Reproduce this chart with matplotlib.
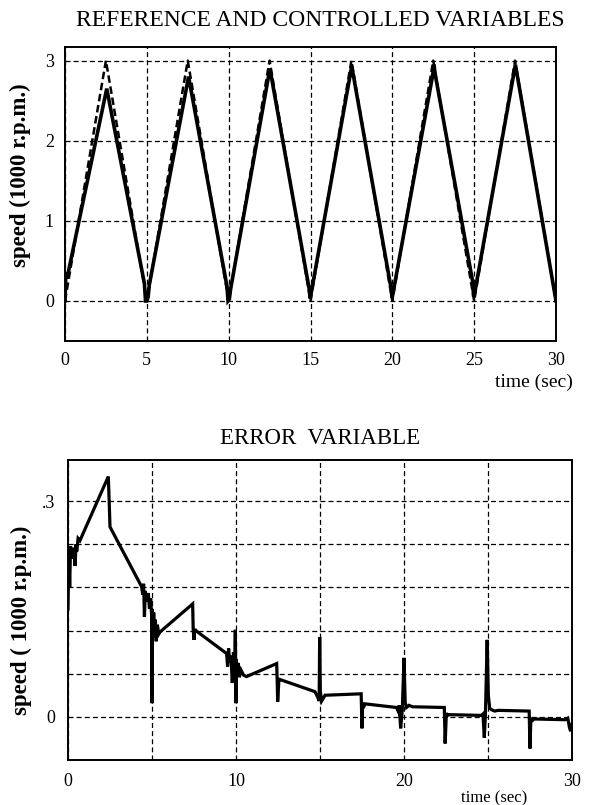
import matplotlib
matplotlib.use("Agg")
import matplotlib.pyplot as plt

# ---------------- data ----------------
# Reference (triangular) speed, 1000 r.p.m.
ref_t = [0, 2.5, 5, 7.5, 10, 12.5, 15, 17.5, 20, 22.5, 25, 27.5, 30]
ref_v = [0, 3, 0, 3, 0, 3, 0, 3, 0, 3, 0, 3, 0]

# Controlled speed
ctl_t = [0.0, 0.05, 0.12, 2.55, 4.85, 4.92, 5.0, 5.08, 5.15, 7.55, 9.9, 9.96, 10.04, 10.12,
         12.52, 14.92, 14.98, 15.06, 17.52, 19.93, 19.99, 20.06, 22.45, 22.55, 22.6,
         24.9, 24.97, 25.05, 27.52, 30.0]
ctl_v = [0.0, 0.35, 0.28, 2.65, 0.22, 0.0, 0.0, 0.05, 0.2, 2.8, 0.18, 0.0, 0.02, 0.15,
         2.9, 0.15, 0.03, 0.12, 2.93, 0.15, 0.04, 0.12, 2.8, 2.95, 2.85,
         0.25, 0.05, 0.12, 2.95, 0.0]

# Error variable
err_t = [0.0, 0.05, 0.1, 0.15, 0.22, 0.3, 0.38, 0.42, 0.48, 0.52, 0.6, 0.71,
         2.40, 2.45, 2.5, 4.38, 4.45, 4.5, 4.55, 4.6, 4.7, 4.78, 4.85, 4.92, 4.98, 5.0, 5.02,
         5.06, 5.1, 5.15, 5.2, 5.25, 5.32, 5.4, 5.48,
         7.42, 7.45, 7.5, 7.55, 7.6,
         9.44, 9.5, 9.56, 9.62, 9.7, 9.78, 9.85, 9.92, 9.96, 10.0, 10.02, 10.06, 10.12, 10.2, 10.3, 10.45, 10.63,
         12.42, 12.45, 12.48, 12.55, 12.6,
         14.7, 14.85, 14.95, 14.98, 15.02, 15.1, 15.3,
         17.45, 17.5, 17.53, 17.6, 17.7,
         19.55, 19.65, 19.72, 19.8, 19.9, 20.0, 20.07, 20.15, 20.3, 20.5,
         22.4, 22.45, 22.52, 22.6, 22.7,
         24.6, 24.7, 24.78, 24.85, 24.95, 25.02, 25.1, 25.2, 25.4, 25.6,
         27.45, 27.5, 27.55, 27.65, 27.75,
         29.6, 29.75, 29.85, 29.92, 30.0]
err_v = [0.15, 0.23, 0.18, 0.237, 0.22, 0.235, 0.225, 0.21, 0.24, 0.23, 0.248, 0.245,
         0.334, 0.30, 0.264, 0.181, 0.17, 0.185, 0.139, 0.175, 0.16, 0.172, 0.15, 0.165, 0.14, 0.019, 0.15,
         0.11, 0.145, 0.12, 0.135, 0.105, 0.128, 0.115, 0.118,
         0.157, 0.123, 0.107, 0.122, 0.12,
         0.088, 0.07, 0.095, 0.075, 0.085, 0.047, 0.09, 0.065, 0.121, 0.019, 0.08, 0.06, 0.075, 0.055, 0.065, 0.058, 0.056,
         0.074, 0.052, 0.021, 0.05, 0.052,
         0.035, 0.028, 0.022, 0.111, 0.035, 0.022, 0.03,
         0.032, -0.016, 0.02, 0.014, 0.018,
         0.013, 0.008, 0.016, -0.016, 0.01, 0.082, 0.02, 0.013, 0.016, 0.014,
         0.013, -0.037, 0.005, 0.002, 0.003,
         0.002, 0.004, -0.029, 0.006, 0.107, 0.03, 0.012, 0.01, 0.008, 0.009,
         0.008, -0.044, -0.003, -0.005, -0.003,
         -0.004, -0.002, -0.015, -0.02, -0.01]

# tick labels
top_xticks = [0, 5, 10, 15, 20, 25, 30]
top_yticks = [0, 1, 2, 3]
bot_xticks = [0, 5, 10, 15, 20, 25, 30]
bot_xlabels = ['0', '', '10', '', '20', '', '30']
bot_yticks = [0, 0.06, 0.12, 0.18, 0.24, 0.30]
bot_ylabels = ['0', '', '', '', '', '.3']

# ---------------- figure ----------------
W, H = 593, 805
fig = plt.figure(figsize=(W / 100, H / 100), dpi=100)
SERIF = ['Liberation Serif', 'DejaVu Serif']
plt.rcParams['font.family'] = SERIF

def px_axes(l, t, r, b):
    return fig.add_axes([l / W, 1 - b / H, (r - l) / W, (b - t) / H])

grid_kw = dict(color='black', linestyle=(0, (4, 2.5)), linewidth=0.9)

# Top plot
ax1 = px_axes(65, 47, 556, 341)
ax1.plot(ref_t, ref_v, color='black', lw=1.8, linestyle=(0, (3, 1.5)))
ax1.plot(ctl_t, ctl_v, color='black', lw=2.6, solid_joinstyle='miter')
ax1.set_xlim(0, 30)
ax1.set_ylim(-0.5, 3.17)
ax1.set_xticks(top_xticks)
ax1.set_yticks(top_yticks)
ax1.grid(True, **grid_kw)
ax1.tick_params(length=0, labelsize=13, pad=8)
for s in ax1.spines.values():
    s.set_linewidth(1.4)
fig.text(320 / W, 1 - 20 / H, 'REFERENCE AND CONTROLLED VARIABLES', ha='center', va='center',
         fontsize=17)
fig.text(20 / W, 1 - 175 / H, 'speed (1000 r.p.m.)', rotation=90, ha='center', va='center',
         fontsize=16.5, fontweight='bold')
fig.text(573 / W, 1 - 382 / H, 'time (sec)', ha='right', va='center', fontsize=14)

# Bottom plot
ax2 = px_axes(68, 460, 572, 760)
ax2.plot(err_t, err_v, color='black', lw=2.3, solid_joinstyle='miter')
ax2.set_xlim(0, 30)
ax2.set_ylim(-0.06, 0.357)
ax2.set_xticks(bot_xticks)
ax2.set_xticklabels(bot_xlabels)
ax2.set_yticks(bot_yticks)
ax2.set_yticklabels(bot_ylabels)
ax2.grid(True, **grid_kw)
ax2.tick_params(length=0, labelsize=13, pad=9)
for s in ax2.spines.values():
    s.set_linewidth(1.4)
fig.text(320 / W, 1 - 438 / H, 'ERROR  VARIABLE', ha='center', va='center', fontsize=16.5)
fig.text(21 / W, 1 - 620 / H, 'speed ( 1000 r.p.m.)', rotation=90, ha='center', va='center',
         fontsize=16.5, fontweight='bold')
fig.text(527 / W, 1 - 798 / H, 'time (sec)', ha='right', va='center', fontsize=12)

fig.savefig('out.png', dpi=100)
